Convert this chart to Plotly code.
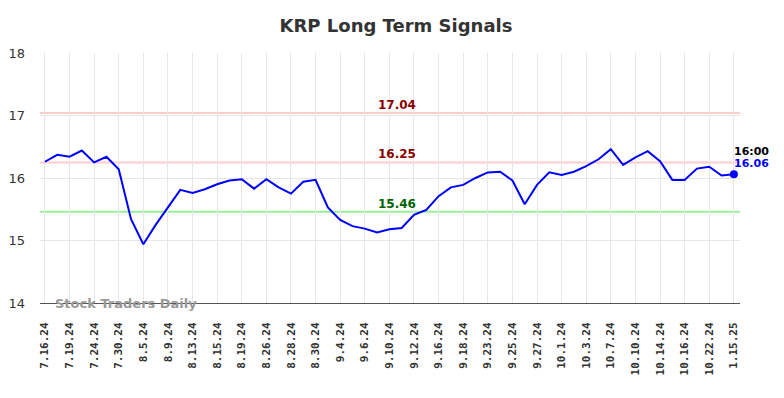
import plotly.graph_objects as go

tick_labels = ["7.16.24", "7.19.24", "7.24.24", "7.30.24", "8.5.24", "8.9.24", "8.13.24", "8.15.24",
               "8.19.24", "8.26.24", "8.28.24", "8.30.24", "9.4.24", "9.6.24", "9.10.24", "9.12.24",
               "9.16.24", "9.18.24", "9.23.24", "9.25.24", "9.27.24", "10.1.24", "10.3.24", "10.7.24",
               "10.10.24", "10.14.24", "10.16.24", "10.22.24", "1.15.25"]

prices = [16.26, 16.37, 16.34, 16.44, 16.25, 16.34, 16.14, 15.34, 14.94, 15.25,
          15.53, 15.81, 15.76, 15.82, 15.90, 15.96, 15.98, 15.83, 15.98, 15.85,
          15.75, 15.94, 15.97, 15.53, 15.33, 15.23, 15.19, 15.13, 15.18, 15.20,
          15.41, 15.49, 15.71, 15.85, 15.89, 16.00, 16.09, 16.10, 15.96, 15.58,
          15.89, 16.09, 16.05, 16.10, 16.19, 16.30, 16.46, 16.21, 16.33, 16.43,
          16.27, 15.97, 15.97, 16.15, 16.18, 16.04, 16.06]

levels = [17.04, 16.25, 15.46]
level_line_colors = ["#ffcccc", "#ffcccc", "#99ee99"]
level_text_colors = ["#8b0000", "#8b0000", "#006400"]
last_time = "16:00"

x = list(range(len(prices)))
tick_idx = x[::2]

fig = go.Figure()
fig.add_trace(go.Scatter(x=x, y=prices, mode="lines", line=dict(color="#0000ff", width=2),
                         hoverinfo="skip", showlegend=False))
fig.add_trace(go.Scatter(x=[x[-1]], y=[prices[-1]], mode="markers",
                         marker=dict(color="#0000ff", size=8), showlegend=False))

label_x = 28.6
for lv, lc, tc in zip(levels, level_line_colors, level_text_colors):
    fig.add_shape(type="line", xref="paper", x0=0, x1=1, y0=lv, y1=lv,
                  line=dict(color=lc, width=2), layer="below")
    fig.add_annotation(x=label_x, y=lv, text=f"<b>{lv:.2f}</b>", showarrow=False,
                       yanchor="bottom", yshift=-1, font=dict(color=tc, size=12, family="DejaVu Sans"))

fig.add_annotation(x=x[-1], y=prices[-1], text=f"<b>{last_time}</b>", showarrow=False,
                   xanchor="left", yanchor="middle", xshift=-2, yshift=23,
                   font=dict(color="#000000", size=11, family="DejaVu Sans"))
fig.add_annotation(x=x[-1], y=prices[-1], text=f"<b>{prices[-1]:.2f}</b>", showarrow=False,
                   xanchor="left", yanchor="middle", xshift=-2, yshift=11,
                   font=dict(color="#0000ff", size=11, family="DejaVu Sans"))

fig.add_annotation(xref="paper", yref="paper", x=0.018, y=0.0, text="<b>Stock Traders Daily</b>",
                   showarrow=False, xanchor="left", yanchor="middle",
                   font=dict(color="#999999", size=13, family="DejaVu Sans"))

fig.update_layout(
    width=776, height=390,
    margin=dict(l=32, r=44, t=45, b=95, autoexpand=False),
    paper_bgcolor="white", plot_bgcolor="white",
    title=dict(text="<b>KRP Long Term Signals</b>", x=0.5, xanchor="center", y=0.954, yanchor="middle",
               font=dict(size=18, color="#333333", family="DejaVu Sans")),
    xaxis=dict(range=[-0.4, 56.5], tickvals=tick_idx, ticktext=[f"<b>{t}</b>" for t in tick_labels],
               tickangle=-90, ticklabelstandoff=14, automargin=False,
               tickfont=dict(family="DejaVu Sans Mono", size=11, color="#333333"),
               showgrid=True, gridcolor="#e6e6e6", gridwidth=1, zeroline=False,
               showline=True, linecolor="#555555", linewidth=1, ticks="", fixedrange=True),
    yaxis=dict(range=[14, 18], tickvals=[14, 15, 16, 17, 18], showgrid=True, gridcolor="#e6e6e6",
               zeroline=False, tickfont=dict(family="DejaVu Sans", size=13, color="#333333"),
               ticks="", ticklabelstandoff=14, automargin=False),
    font=dict(family="DejaVu Sans"),
)

fig.write_html("out.html")
